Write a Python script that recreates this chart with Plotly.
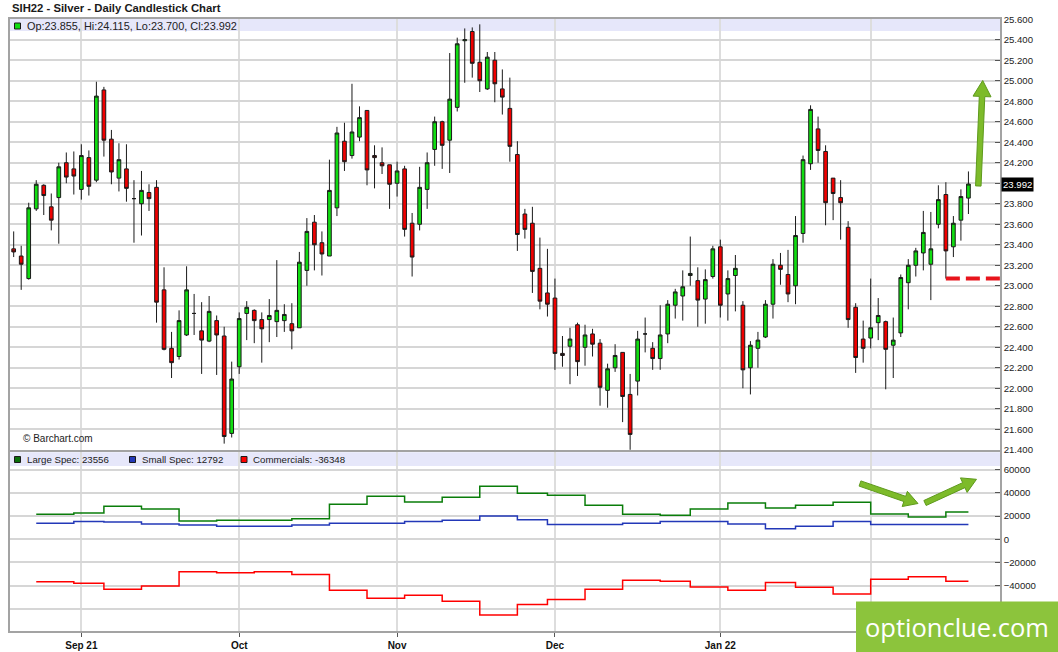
import math

import pandas as pd
import plotly.graph_objects as go

# --- data -----------------------------------------------------------------
HOLIDAYS = ["2021-09-06", "2021-11-25", "2021-12-24", "2022-01-17"]
trade_days = pd.bdate_range("2021-08-19", "2022-02-18", freq="C", holidays=HOLIDAYS)
dates = [d.strftime("%Y-%m-%d") for d in trade_days]

opens = [
    23.36, 23.29, 23.07, 23.75, 23.98, 23.77, 23.86, 24.20, 24.14, 23.94,
    24.25, 24.03, 24.91, 24.43, 24.05, 24.14, 23.85, 23.80, 23.91, 23.96,
    22.96, 22.39, 22.31, 22.52, 22.73, 22.56, 22.46, 22.66, 22.51, 21.56,
    22.21, 22.73, 22.76, 22.67, 22.67, 22.65, 22.66, 22.63, 22.59, 23.15,
    23.62, 23.42, 23.29, 23.76, 24.41, 24.27, 24.45, 24.71, 24.27, 24.20,
    24.18, 24.00, 24.14, 23.61, 23.60, 23.94, 24.33, 24.60, 24.42, 24.74,
    25.39, 25.48, 25.18, 24.92, 25.20, 24.92, 24.73, 24.28, 23.70, 23.61,
    23.17, 22.93, 22.88, 22.34, 22.41, 22.62, 22.40, 22.53, 22.44, 21.98,
    22.20, 22.35, 21.94, 22.07, 22.53, 22.39, 22.29, 22.53, 22.81, 22.90,
    23.10, 23.05, 22.87, 23.09, 23.38, 22.92, 23.10, 22.81, 22.20, 22.39,
    22.50, 22.82, 23.20, 23.11, 23.00, 23.51, 24.19, 24.53, 24.31, 24.05,
    23.86, 23.57, 22.79, 22.48, 22.49, 22.64, 22.65, 22.42, 22.54, 23.03,
    23.20, 23.32, 23.21, 23.60, 23.89, 23.38, 23.64, 23.855,
]
highs = [
    23.53, 23.39, 23.81, 24.03, 23.99, 23.90, 24.20, 24.30, 24.31, 24.38,
    24.32, 24.99, 24.94, 24.52, 24.39, 24.38, 24.03, 24.12, 23.99, 24.03,
    23.18, 22.55, 22.76, 23.19, 22.92, 22.84, 22.90, 22.71, 22.60, 22.26,
    22.74, 22.85, 22.77, 22.74, 22.87, 23.25, 22.82, 22.83, 23.33, 23.66,
    23.69, 23.53, 24.23, 24.55, 24.59, 24.97, 24.75, 24.71, 24.37, 24.35,
    24.18, 24.21, 24.17, 23.71, 24.16, 24.30, 24.65, 24.61, 25.27, 25.42,
    25.51, 25.52, 25.55, 25.28, 25.28, 25.11, 25.03, 24.41, 23.75, 23.77,
    23.47, 23.36, 23.07, 22.51, 22.59, 22.64, 22.62, 22.58, 22.48, 22.24,
    22.43, 22.35, 22.14, 22.56, 22.69, 22.45, 22.81, 22.86, 22.97, 23.15,
    23.48, 23.18, 23.16, 23.39, 23.45, 23.15, 23.30, 22.85, 22.46, 22.55,
    22.86, 23.26, 23.32, 23.35, 23.68, 24.27, 24.76, 24.65, 24.37, 24.05,
    24.03, 23.63, 22.83, 22.66, 23.07, 22.88, 22.66, 22.69, 23.11, 23.26,
    23.37, 23.73, 23.72, 23.98, 24.01, 23.68, 23.94, 24.115,
]
lows = [
    23.28, 22.96, 23.06, 23.73, 23.69, 23.54, 23.41, 24.00, 23.89, 23.84,
    23.88, 24.01, 24.26, 23.99, 23.92, 23.82, 23.42, 23.49, 23.73, 22.64,
    22.37, 22.10, 22.28, 22.51, 22.52, 22.14, 22.45, 22.13, 21.46, 21.52,
    22.14, 22.47, 22.44, 22.25, 22.45, 22.50, 22.55, 22.38, 22.59, 23.00,
    23.15, 23.10, 23.29, 23.68, 24.12, 24.24, 24.41, 23.98, 23.95, 24.09,
    23.75, 23.87, 23.48, 23.09, 23.54, 23.75, 24.17, 24.14, 24.10, 24.70,
    24.98, 25.03, 24.89, 24.91, 24.79, 24.67, 24.21, 23.34, 23.46, 22.93,
    22.77, 22.70, 22.18, 22.21, 22.04, 22.12, 22.22, 22.31, 21.83, 21.81,
    22.16, 21.67, 21.40, 21.93, 22.35, 22.18, 22.18, 22.44, 22.68, 22.66,
    23.00, 22.60, 22.63, 23.07, 22.69, 22.66, 22.75, 22.00, 21.94, 22.20,
    22.49, 22.68, 23.01, 22.84, 22.82, 23.42, 24.13, 24.20, 23.59, 23.64,
    23.45, 22.59, 22.15, 22.25, 22.39, 22.47, 21.99, 22.10, 22.50, 22.77,
    23.09, 23.15, 22.86, 23.56, 23.07, 23.28, 23.44, 23.700,
]
closes = [
    23.33, 23.21, 23.76, 23.99, 23.88, 23.64, 24.16, 24.06, 24.07, 24.27,
    23.97, 24.85, 24.42, 24.11, 24.23, 23.95, 23.85, 23.93, 23.85, 22.84,
    22.38, 22.25, 22.66, 22.96, 22.73, 22.47, 22.75, 22.52, 21.53, 22.09,
    22.68, 22.79, 22.66, 22.58, 22.71, 22.76, 22.72, 22.56, 23.23, 23.53,
    23.40, 23.31, 23.93, 24.49, 24.21, 24.50, 24.64, 24.13, 24.25, 24.17,
    23.99, 24.12, 23.55, 23.28, 23.96, 24.20, 24.60, 24.37, 24.82, 25.36,
    25.40, 25.17, 25.00, 25.23, 24.97, 24.84, 24.36, 23.50, 23.55, 23.14,
    22.85, 22.82, 22.34, 22.32, 22.48, 22.26, 22.52, 22.43, 22.01, 22.19,
    22.32, 21.92, 21.55, 22.48, 22.53, 22.29, 22.52, 22.82, 22.94, 22.99,
    23.12, 22.86, 23.06, 23.36, 22.81, 23.07, 23.17, 22.18, 22.42, 22.47,
    22.82, 23.21, 23.16, 22.92, 23.49, 24.23, 24.72, 24.32, 23.81, 23.90,
    23.81, 22.67, 22.30, 22.39, 22.59, 22.71, 22.38, 22.47, 23.08, 23.20,
    23.34, 23.52, 23.36, 23.84, 23.34, 23.61, 23.87, 23.992,
]

# weekly COT positions (report Tuesdays)
cot_dates = [d.strftime("%Y-%m-%d") for d in pd.date_range("2021-08-24", "2022-02-15", freq="7D")]
large_spec = [
    21500, 22600, 28400, 26100, 15700, 16300, 16400, 17700, 30100, 37000,
    32100, 36200, 45700, 39600, 37900, 29300, 21500, 20600, 26100, 31300,
    27000, 29300, 31900, 21800, 19200, 23556,
]
small_spec = [
    13700, 15400, 14900, 13100, 12300, 11100, 11100, 12300, 13700, 13700,
    15400, 16300, 20000, 16900, 12800, 12800, 13700, 15200, 15200, 13100,
    9100, 11100, 15200, 12800, 12800, 12792,
]
commercials = [
    -36700, -38100, -43300, -40400, -28100, -28900, -28100, -30400, -44200, -51100,
    -48500, -53700, -65500, -56400, -52000, -43300, -35500, -36400, -41300, -44200,
    -37300, -41600, -47400, -34700, -32400, -36348,
]

# --- geometry helpers -------------------------------------------------------
W, H = 1058, 652
ML, MR, MT, MB = 10, 58, 19, 21
PW, PH = W - ML - MR, H - MT - MB


def px(x):
    return (x - ML) / PW


def py(y):
    return (H - MB - y) / PH


def arrow_path(tail, tip, shaft, head_w, head_len):
    # filled block arrow, built in pixels and returned in paper units
    dx, dy = tip[0] - tail[0], tip[1] - tail[1]
    length = math.hypot(dx, dy)
    ux, uy = dx / length, dy / length
    nx, ny = -uy, ux
    bx, by = tip[0] - ux * head_len, tip[1] - uy * head_len
    pts = [
        (tail[0] + nx * shaft / 2, tail[1] + ny * shaft / 2),
        (bx + nx * shaft / 2, by + ny * shaft / 2),
        (bx + nx * head_w / 2, by + ny * head_w / 2),
        tip,
        (bx - nx * head_w / 2, by - ny * head_w / 2),
        (bx - nx * shaft / 2, by - ny * shaft / 2),
        (tail[0] - nx * shaft / 2, tail[1] - ny * shaft / 2),
    ]
    return "M " + " L ".join(f"{px(x):.5f},{py(y):.5f}" for x, y in pts) + " Z"


FONT = "Liberation Sans, Arial, sans-serif"
GREEN, RED = "#11dd11", "#f00000"
GRID = "#d6d6d6"
BORDER = "#a3a3a3"
ARROW = "#7dbb2a"
XMIN, XMAX = -0.49, 131.2

month_idx = [i for i in range(1, len(trade_days)) if trade_days[i].month != trade_days[i - 1].month]
month_vals = [dates[i] for i in month_idx]
month_text = [
    trade_days[i].strftime("%b %y") if (k == 0 or trade_days[i].month == 1) else trade_days[i].strftime("%b")
    for k, i in enumerate(month_idx)
]

fig = go.Figure()
fig.add_trace(
    go.Candlestick(
        x=dates,
        open=opens,
        high=highs,
        low=lows,
        close=closes,
        increasing={"fillcolor": GREEN, "line": {"color": "#1a1a1a", "width": 1}},
        decreasing={"fillcolor": RED, "line": {"color": "#1a1a1a", "width": 1}},
        whiskerwidth=0,
        showlegend=False,
        xaxis="x",
        yaxis="y",
    )
)

cot_x = cot_dates + [dates[-1]]
for name, vals, color in [
    ("Large Spec", large_spec, "#0a7d0a"),
    ("Small Spec", small_spec, "#2338b8"),
    ("Commercials", commercials, "#ff0000"),
]:
    fig.add_trace(
        go.Scatter(
            x=cot_x,
            y=vals + [vals[-1]],
            mode="lines",
            name=name,
            line={"shape": "hv", "color": color, "width": 1.5},
            showlegend=False,
            xaxis="x2",
            yaxis="y2",
        )
    )

common_x = {
    "type": "category",
    "categoryorder": "array",
    "categoryarray": dates,
    "range": [XMIN, XMAX],
    "tickvals": month_vals,
    "showgrid": True,
    "gridcolor": "#dddddd",
    "gridwidth": 1.5,
    "showline": True,
    "mirror": True,
    "linecolor": BORDER,
    "linewidth": 1.5,
    "zeroline": False,
    "automargin": False,
}
common_y = {
    "side": "right",
    "showgrid": True,
    "gridcolor": GRID,
    "gridwidth": 1.5,
    "showline": True,
    "mirror": True,
    "linecolor": BORDER,
    "linewidth": 1.5,
    "ticks": "inside",
    "ticklen": 5,
    "tickcolor": "#555555",
    "zeroline": False,
    "automargin": False,
    "tickfont": {"family": FONT, "size": 9.6, "color": "#222222"},
}

fig.update_layout(
    width=W,
    height=H,
    autosize=False,
    margin={"l": ML, "r": MR, "t": MT, "b": MB, "autoexpand": False},
    paper_bgcolor="white",
    plot_bgcolor="white",
    showlegend=False,
    font={"family": FONT, "size": 10, "color": "#222222"},
    xaxis={**common_x, "domain": [0, 1], "anchor": "y", "showticklabels": False,
           "rangeslider": {"visible": False}},
    xaxis2={**common_x, "domain": [0, 1], "anchor": "y2", "matches": "x",
            "ticktext": month_text, "ticks": "outside", "ticklen": 4, "tickcolor": "#555555",
            "tickfont": {"family": FONT, "size": 10, "color": "#111111", "weight": "bold"}},
    yaxis={**common_y, "domain": [py(450), 1], "anchor": "x",
           "range": [21.398, 25.602], "tick0": 21.4, "dtick": 0.2, "tickformat": ".3f"},
    yaxis2={**common_y, "domain": [0, py(452.3)], "anchor": "x2",
            "range": [-79300, 75075], "tick0": 0, "dtick": 20000, "tickformat": "d"},
)

shapes = [
    # legend bands
    dict(type="rect", xref="paper", yref="paper", x0=0, x1=1, y0=py(31), y1=1,
         fillcolor="#e6e7fa", line_width=0, layer="below"),
    dict(type="rect", xref="paper", yref="paper", x0=0, x1=1, y0=py(466), y1=py(452.3),
         fillcolor="#e6e7fa", line_width=0, layer="below"),
    # legend icons
    dict(type="rect", xref="paper", yref="paper", x0=px(14.5), x1=px(20.5), y0=py(29), y1=py(23),
         fillcolor=GREEN, line={"color": "#1a1a1a", "width": 1}),
    dict(type="rect", xref="paper", yref="paper", x0=px(14.5), x1=px(20.5), y0=py(462.5), y1=py(456.5),
         fillcolor="#0a6e0a", line={"color": "#1a1a1a", "width": 1}),
    dict(type="rect", xref="paper", yref="paper", x0=px(129.5), x1=px(135.5), y0=py(462.5), y1=py(456.5),
         fillcolor="#2338b8", line={"color": "#1a1a1a", "width": 1}),
    dict(type="rect", xref="paper", yref="paper", x0=px(241), x1=px(247), y0=py(462.5), y1=py(456.5),
         fillcolor="#ff0000", line={"color": "#1a1a1a", "width": 1}),
    # support level from the low of the 15 Feb candle
    dict(type="line", xref="x", yref="y", x0=dates[124], x1=XMAX, y0=lows[124], y1=lows[124],
         line={"color": "#e8141c", "width": 4, "dash": "14px,6px"}),
    # hand-drawn arrows
    dict(type="path", xref="paper", yref="paper",
         path=arrow_path((978.3, 186), (982.7, 80.5), 5.5, 18, 16),
         fillcolor=ARROW, line={"color": "#5e9a1c", "width": 1}, layer="above"),
    dict(type="path", xref="paper", yref="paper",
         path=arrow_path((860, 483.5), (918, 503.5), 5.5, 16, 14),
         fillcolor=ARROW, line={"color": "#5e9a1c", "width": 1}, layer="above"),
    dict(type="path", xref="paper", yref="paper",
         path=arrow_path((925, 503), (976.5, 479.3), 5.5, 16, 14),
         fillcolor=ARROW, line={"color": "#5e9a1c", "width": 1}, layer="above"),
    # watermark box
    dict(type="rect", xref="paper", yref="paper", x0=px(856), x1=px(W), y0=py(H), y1=py(601.5),
         fillcolor="#8cc43c", line_width=0, layer="above"),
]
fig.update_layout(shapes=shapes)

last = len(dates) - 1
annotations = [
    dict(text="SIH22 - Silver - Daily Candlestick Chart", xref="paper", yref="paper",
         x=px(10), y=py(8), xanchor="left", yanchor="middle", showarrow=False,
         font={"family": FONT, "size": 11.3, "color": "#1a1a1a", "weight": "bold"}),
    dict(text=f"Op:{opens[last]:.3f}, Hi:{highs[last]:.3f}, Lo:{lows[last]:.3f}, Cl:{closes[last]:.3f}",
         xref="paper", yref="paper", x=px(24.5), y=py(25.7), xanchor="left", yanchor="middle",
         showarrow=False, font={"family": FONT, "size": 10.9, "color": "#222222"}),
    dict(text=f"Large Spec: {large_spec[-1]}", xref="paper", yref="paper", x=px(24.5), y=py(459.5),
         xanchor="left", yanchor="middle", showarrow=False, font={"family": FONT, "size": 9.7, "color": "#222222"}),
    dict(text=f"Small Spec: {small_spec[-1]}", xref="paper", yref="paper", x=px(139.5), y=py(459.5),
         xanchor="left", yanchor="middle", showarrow=False, font={"family": FONT, "size": 9.7, "color": "#222222"}),
    dict(text=f"Commercials: {commercials[-1]}", xref="paper", yref="paper", x=px(251), y=py(459.5),
         xanchor="left", yanchor="middle", showarrow=False, font={"family": FONT, "size": 9.7, "color": "#222222"}),
    dict(text="© Barchart.com", xref="paper", yref="paper", x=px(20.5), y=py(438),
         xanchor="left", yanchor="middle", showarrow=False, font={"family": FONT, "size": 10, "color": "#222222"}),
    # last price tag
    dict(text=f"{closes[last]:.3f}", xref="paper", yref="y", x=1, xshift=1, y=closes[last],
         xanchor="left", yanchor="middle", showarrow=False, bgcolor="#000000", borderpad=1,
         font={"family": FONT, "size": 9.6, "color": "#ffffff"}),
    # watermark text
    dict(text="optionclue.com", xref="paper", yref="paper", x=px(956.5), y=py(627),
         xanchor="center", yanchor="middle", showarrow=False,
         font={"family": "Open Sans, sans-serif", "size": 25.5, "color": "#ffffff"}),
]
fig.update_layout(annotations=annotations)

# the page body has a default 8px margin; drop it so the figure sits at the window origin
fig.write_html(
    "out.html",
    config={"displayModeBar": False},
    post_script="document.body.style.margin='0px';",
)
